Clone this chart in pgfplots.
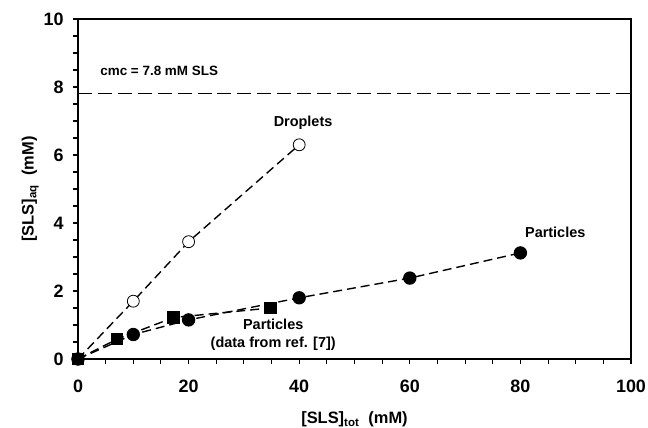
\documentclass[border=0pt]{standalone}
\usepackage{pgfplots}
\pgfplotsset{compat=1.18}
\usepackage{fontspec}
\setmainfont{Liberation Sans}
\begin{document}
\begin{tikzpicture}
\begin{axis}[
  scale only axis,
  width=553bp, height=340bp,
  xmin=0, xmax=100, ymin=0, ymax=10,
  xtick={0,20,...,100}, ytick={0,2,...,10},
  minor xtick={5,10,15,25,30,35,45,50,55,65,70,75,85,90,95},
  minor ytick={0.5,1,1.5,2.5,3,3.5,4.5,5,5.5,6.5,7,7.5,8.5,9,9.5},
  xtick pos=bottom, ytick pos=left,
  tick align=outside,
  major tick length=5bp, minor tick length=5bp,
  every tick/.style={line width=1.1pt, black},
  axis line style={line width=1.3pt},
  /pgf/number format/assume math mode=true,
  ticklabel style={font=\fontsize{18}{19}\selectfont\bfseries},
  xticklabel style={yshift=-12bp},
  yticklabel style={xshift=-6bp},
  label style={font=\fontsize{16.5}{18}\selectfont\bfseries},
  xlabel={[SLS]$_{\textbf{\fontsize{11.5}{12}\selectfont tot}}$\ \ (mM)},
  ylabel={[SLS]$_{\textbf{\fontsize{11.5}{12}\selectfont aq}}$\ \ (mM)},
  xlabel style={yshift=-13bp},
  ylabel style={yshift=-2bp},
  clip=false,
  every axis plot/.append style={line width=1.4pt, dash pattern=on 9pt off 5pt},
]
% critical micelle concentration
\addplot[black, dash pattern=on 14pt off 6pt, line width=1.3pt] coordinates {(0,7.8) (100,7.8)};
% droplets
\addplot[black, mark=*, mark options={solid, fill=white, line width=0.8pt}, mark size=6pt]
  coordinates {(0,0) (10,1.7) (20,3.45) (40,6.3)};
% particles, literature data
\addplot[black, mark=square*, mark options={solid, fill=black}, mark size=5.5pt]
  coordinates {(0,0) (7,0.58) (17.3,1.22) (34.8,1.5)};
% particles
\addplot[black, mark=*, mark options={solid, fill=black}, mark size=6pt]
  coordinates {(0,0) (10,0.72) (20,1.15) (40,1.8) (60,2.38) (80,3.12)};
\node[anchor=west, font=\fontsize{13.5}{16}\selectfont\bfseries] at (axis cs:3.4,8.47) {cmc = 7.8 mM SLS};
\node[font=\fontsize{14.5}{15}\selectfont\bfseries] at (axis cs:40.7,6.94) {Droplets};
\node[font=\fontsize{14.5}{15}\selectfont\bfseries] at (axis cs:86.3,3.74) {Particles};
\node[font=\fontsize{14.5}{15}\selectfont\bfseries, align=center, inner sep=0pt] at (axis cs:35.3,0.71)
  {Particles\\[3pt](data from ref. [7])};
\end{axis}
\pgfresetboundingbox
\path[use as bounding box] ([shift={(-78bp,-69bp)}]current axis.south west)
  rectangle ([shift={(17bp,19bp)}]current axis.north east);
\end{tikzpicture}
\end{document}
